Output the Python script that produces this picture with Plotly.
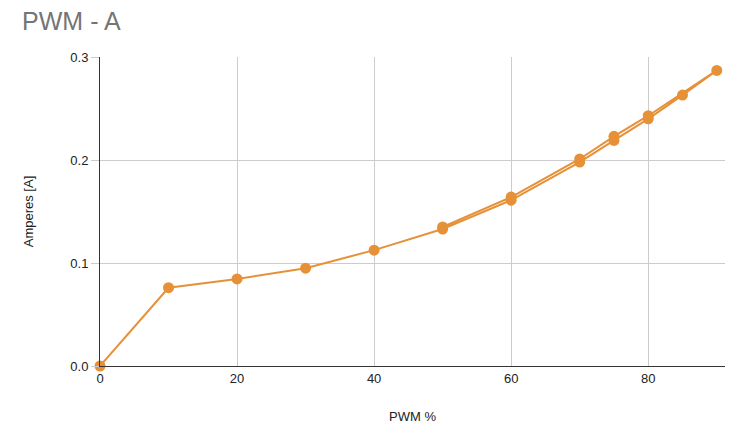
import plotly.graph_objects as go

# PWM sweep up and back down (same series, drawn as one loop)
pwm_up = [0, 10, 20, 30, 40, 50, 60, 70, 75, 80, 85, 90]
amps_up = [0.0, 0.076, 0.0845, 0.095, 0.1125, 0.133, 0.161, 0.198, 0.219, 0.240, 0.263, 0.287]
pwm_down = [80, 75, 70, 60, 50]
amps_down = [0.243, 0.223, 0.201, 0.164, 0.135]

y_ticks = [0.0, 0.1, 0.2, 0.3]
y_labels = ['0.0', '0.1', '0.2', '0.3']
x_ticks = [0, 20, 40, 60, 80]

orange = '#e69138'
font_family = 'Liberation Sans, Arial, sans-serif'


def main():
    x = pwm_up + pwm_down
    y = amps_up + amps_down

    fig = go.Figure(go.Scatter(
        x=x, y=y,
        mode='lines+markers',
        line=dict(color=orange, width=2),
        marker=dict(color=orange, size=11),
        cliponaxis=False,
        showlegend=False
    ))

    # page has an 8px body margin, so margins are shifted to compensate
    fig.update_layout(
        width=742, height=428,
        margin=dict(l=92, r=25, t=49, b=70),
        paper_bgcolor='white', plot_bgcolor='white',
        font=dict(family=font_family, size=13, color='#222222'),
        title=dict(text='PWM - A', x=0.019, xanchor='left', y=0.97, yanchor='middle',
                   font=dict(size=25, color='#757575', family=font_family)),
    )
    fig.update_xaxes(
        range=[0, 91.2], tickvals=x_ticks,
        showgrid=True, gridcolor='#cccccc', gridwidth=1,
        showline=True, linecolor='#333333', linewidth=1,
        zeroline=False, ticks='', ticklen=0, automargin=False,
        title=dict(text='PWM %', font=dict(size=13, color='#222222'), standoff=27),
        tickfont=dict(size=13, color='#222222')
    )
    fig.update_yaxes(
        range=[0, 0.3], tickvals=y_ticks, ticktext=y_labels,
        showgrid=True, gridcolor='#cccccc', gridwidth=1,
        showline=True, linecolor='#333333', linewidth=1,
        zeroline=False, ticks='outside', ticklen=8, tickcolor='#cccccc', automargin=False,
        title=dict(text='Amperes [A]', font=dict(size=13, color='#222222'), standoff=33),
        tickfont=dict(size=13, color='#222222')
    )

    fig.write_html('out.html')


if __name__ == '__main__':
    main()
